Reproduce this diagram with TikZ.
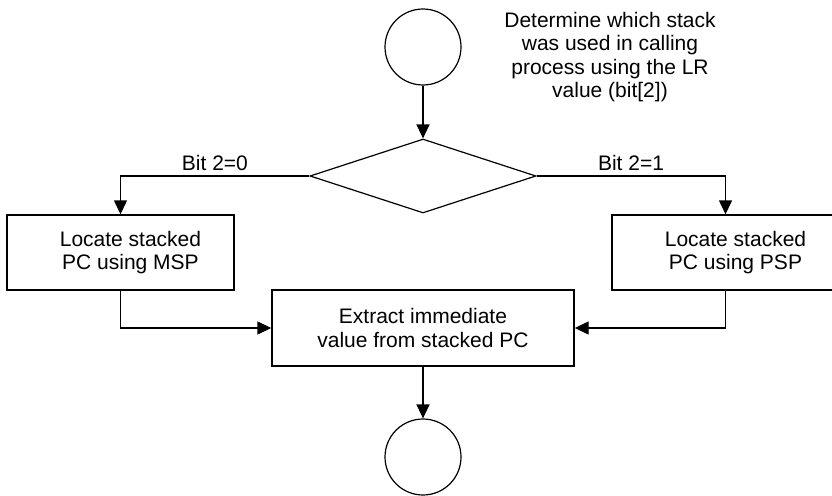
\documentclass[tikz,border=0pt]{standalone}
\usepackage{fontspec}
\setmainfont{Liberation Sans}
\usetikzlibrary{shapes.geometric,arrows.meta}

\tikzset{
  flow/.style={line width=1.4pt,-{Triangle[length=14pt,width=13pt]}},
  stepbox/.style={draw,line width=1.4pt,minimum width=227pt,minimum height=75pt,align=center,inner sep=0pt},
  sidetext/.style={label={[align=center,xshift=10pt]center:{#1}}},
  term/.style={draw,line width=1.2pt,shape=circle,minimum size=76pt,inner sep=0pt},
  txt/.style={font=\fontsize{21}{23.5}\selectfont}
}

\begin{document}
\begin{tikzpicture}[x=1pt,y=-1pt,txt]
\useasboundingbox (0,0) rectangle (832,495);

\node[term] (start) at (423,47) {};
\node[align=center] (note) at (610,57) {Determine which stack\\was used in calling\\process using the LR\\value (bit[2])};

\node[draw,line width=1.2pt,shape=diamond,minimum width=226pt,minimum height=74pt,inner sep=0pt] (choice) at (423,176) {};

% side boxes, text sits a bit right of centre
\node[stepbox,sidetext={Locate stacked\\PC using MSP}] (msp) at (120.5,252.5) {};
\node[stepbox,sidetext={Locate stacked\\PC using PSP}] (psp) at (725.5,252.5) {};
\node[stepbox,minimum width=302pt,minimum height=76pt] (extract) at (423,328) {Extract immediate\\value from stacked PC};

\node[term] (stop) at (423,457) {};

\draw[flow] (start) -- (choice.north);
\draw[flow] (choice.west) -| node[pos=0.25,above=1pt] {Bit 2=0} (msp.north);
\draw[flow] (choice.east) -| node[pos=0.25,above=1pt] {Bit 2=1} (psp.north);
\draw[flow] (msp.south) |- (extract.west);
\draw[flow] (psp.south) |- (extract.east);
\draw[flow] (extract) -- (stop);

\end{tikzpicture}
\end{document}
